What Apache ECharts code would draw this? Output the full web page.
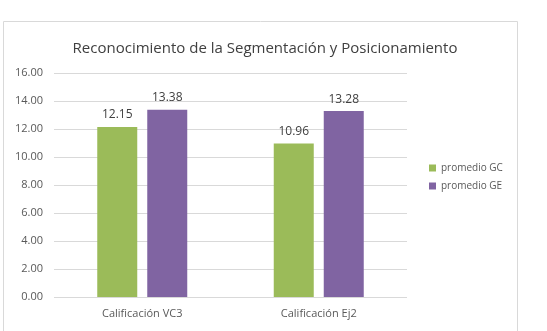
<!DOCTYPE html>
<html>
<head>
<meta charset="utf-8">
<script src="https://cdn.jsdelivr.net/npm/echarts@6/dist/echarts.min.js"></script>
<style>
html,body{margin:0;padding:0;background:#fff}
#main{width:547px;height:331px}
</style>
</head>
<body>
<div id="main"></div>
<script>
var categories = ['Calificación VC3', 'Calificación Ej2'];
var gcValues = [12.15, 10.96];
var geValues = [13.38, 13.28];
var seriesNames = ['promedio GC', 'promedio GE'];

var font = '"Open Sans", "Noto Sans", sans-serif';
var myChart = echarts.init(document.getElementById('main'));
myChart.setOption({
    animation: false,
    textStyle: {fontFamily: font},
    graphic: [{
        type: 'rect',
        shape: {x: 3.5, y: 21.5, width: 514, height: 330},
        style: {fill: 'none', stroke: '#d9d9d9', lineWidth: 1},
        silent: true
    }],
    title: {
        text: 'Reconocimiento de la Segmentación y Posicionamiento',
        left: 260,
        textAlign: 'center',
        top: 36,
        textStyle: {fontSize: 15, fontWeight: 'normal', color: '#404040', fontFamily: font}
    },
    legend: {
        data: seriesNames,
        orient: 'vertical',
        left: 424,
        top: 158,
        itemWidth: 7,
        itemHeight: 7,
        itemGap: 8,
        icon: 'rect',
        textStyle: {fontSize: 10, color: '#595959', fontFamily: font}
    },
    grid: {left: 54, right: 140, top: 73, bottom: 34, containLabel: false},
    xAxis: {
        type: 'category',
        data: categories,
        axisLine: {show: false},
        axisTick: {show: false},
        axisLabel: {fontSize: 11, color: '#595959', margin: 11}
    },
    yAxis: {
        type: 'value',
        min: 0,
        max: 16,
        interval: 2,
        axisLine: {show: false},
        axisTick: {show: false},
        splitLine: {lineStyle: {color: '#d9d9d9'}},
        axisLabel: {
            fontSize: 11,
            color: '#595959',
            margin: 11,
            formatter: function (v) { return v.toFixed(2); }
        }
    },
    series: [{
        name: seriesNames[0],
        type: 'bar',
        data: gcValues,
        barWidth: 40,
        barGap: '25%',
        itemStyle: {color: '#9bbb59'},
        label: {show: true, position: 'top', fontSize: 12, color: '#404040', distance: 6,
            formatter: function (p) { return p.value.toFixed(2); }}
    }, {
        name: seriesNames[1],
        type: 'bar',
        data: geValues,
        barWidth: 40,
        itemStyle: {color: '#8064a2'},
        label: {show: true, position: 'top', fontSize: 12, color: '#404040', distance: 6,
            formatter: function (p) { return p.value.toFixed(2); }}
    }]
});
</script>
</body>
</html>
